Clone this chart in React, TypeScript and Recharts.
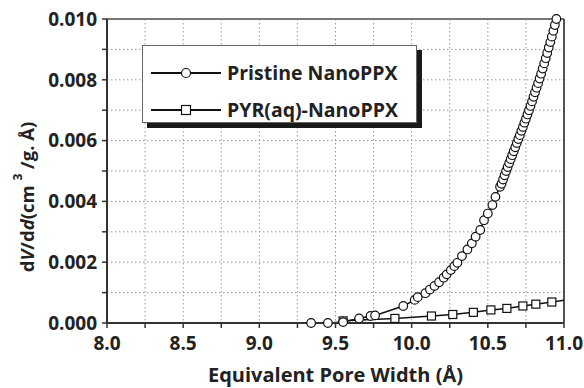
import React from "react";
import {
  ComposedChart,
  Line,
  XAxis,
  YAxis,
  CartesianGrid,
  Legend,
  ReferenceLine,
} from "recharts";

// Pristine NanoPPX (circles)
const pristineX = [
  9.34, 9.45, 9.55, 9.655, 9.73, 9.76, 9.945, 10.02, 10.04, 10.09, 10.12, 10.15,
  10.18, 10.21, 10.23, 10.257, 10.28, 10.3, 10.33, 10.366, 10.395, 10.42, 10.45,
  10.475, 10.5, 10.53, 10.55, 10.58, 10.59, 10.6, 10.61, 10.62, 10.63, 10.64,
  10.65, 10.66, 10.67, 10.68, 10.69, 10.7, 10.71, 10.72, 10.73, 10.74, 10.75,
  10.76, 10.77, 10.78, 10.79, 10.8, 10.81, 10.82, 10.83, 10.84, 10.85, 10.86,
  10.87, 10.88, 10.89, 10.9, 10.91, 10.92, 10.93, 10.94, 10.95,
];
const pristineY = [
  0.0, 0.0, 0.00003, 0.00015, 0.00023, 0.00025, 0.00056, 0.00076, 0.00085,
  0.00098, 0.0011, 0.00122, 0.00134, 0.00149, 0.0016, 0.00174, 0.00187, 0.00198,
  0.0022, 0.00242, 0.00262, 0.00284, 0.00306, 0.00338, 0.0036, 0.00388, 0.00415,
  0.00448, 0.00458, 0.00472, 0.00486, 0.005, 0.00513, 0.00526, 0.00539, 0.00552,
  0.00565, 0.00578, 0.00592, 0.00605, 0.00618, 0.00632, 0.00645, 0.00659,
  0.00672, 0.00686, 0.007, 0.00714, 0.00729, 0.00744, 0.00759, 0.00774, 0.00789,
  0.00804, 0.0082, 0.00837, 0.00854, 0.00871, 0.00888, 0.00906, 0.00924,
  0.00942, 0.00961, 0.0098, 0.01,
];

// PYR(aq)-NanoPPX (squares); the last one sits just past the right edge
const pyrX = [9.55, 9.89, 10.13, 10.27, 10.405, 10.52, 10.625, 10.73, 10.815, 10.92, 11.03];
const pyrY = [
  0.00007, 0.00015, 0.00023, 0.00028, 0.00035, 0.00043, 0.00048, 0.00056,
  0.00062, 0.00069, 0.00077,
];

const seriesNames = ["Pristine NanoPPX", "PYR(aq)-NanoPPX"];
const xTicks = [8, 8.25, 8.5, 8.75, 9, 9.25, 9.5, 9.75, 10, 10.25, 10.5, 10.75, 11];
const yTicks = [0, 0.001, 0.002, 0.003, 0.004, 0.005, 0.006, 0.007, 0.008, 0.009, 0.01];

const pristineData = pristineX.map((x, i) => ({ x, y: pristineY[i] }));
const pyrData = pyrX.map((x, i) => ({ x, y: pyrY[i] }));

const FONT = "'Open Sans', sans-serif";
const INK = "#222";

const SquareDot = (props: any) => {
  const { cx, cy, index } = props;
  if (cx == null || cy == null) return <g key={index} />;
  return (
    <rect key={index} x={cx - 4} y={cy - 4} width={8} height={8} fill="#fff" stroke="#111" strokeWidth={1.2} />
  );
};

const LegendBox = () => (
  <div
    style={{
      width: 273,
      height: 76,
      border: "1px solid #666",
      background: "#fff",
      boxShadow: "5px 5px 0 #1a1a1a",
      fontFamily: FONT,
      fontWeight: 700,
      fontSize: 19.5,
      color: INK,
      boxSizing: "content-box",
    }}
  >
    {seriesNames.map((name, i) => (
      <div
        key={name}
        style={{ display: "flex", alignItems: "center", height: 37, marginTop: i === 0 ? 8 : 0 }}
      >
        <svg width={70} height={14} style={{ marginLeft: 8, marginRight: 6 }}>
          <line x1={0} y1={7} x2={70} y2={7} stroke="#111" strokeWidth={2} />
          {i === 0 ? (
            <circle cx={35} cy={7} r={4.5} fill="#fff" stroke="#111" strokeWidth={1.2} />
          ) : (
            <rect x={30.5} y={2.5} width={9} height={9} fill="#fff" stroke="#111" strokeWidth={1.2} />
          )}
        </svg>
        <span>{name}</span>
      </div>
    ))}
  </div>
);

const YTitle = () => (
  <text
    transform="translate(26,197) rotate(-90)"
    textAnchor="middle"
    dominantBaseline="central"
    fontFamily={FONT}
    fontWeight={700}
    fontSize={18.5}
    fill={INK}
  >
    <tspan fontStyle="normal">d</tspan>
    <tspan fontStyle="italic">V</tspan>
    <tspan fontStyle="normal">/d</tspan>
    <tspan fontStyle="italic">d</tspan>
    <tspan fontStyle="normal">(cm </tspan>
    <tspan fontStyle="normal" fontSize={12} dy={-9}>3</tspan>
    <tspan fontStyle="normal" dy={9}> /g. Å)</tspan>
  </text>
);

const XTitle = (props: any) => {
  const vb = props.viewBox || {};
  return (
    <text
      x={vb.x + vb.width / 2}
      y={382}
      textAnchor="middle"
      fontFamily={FONT}
      fontWeight={700}
      fontSize={20}
      fill={INK}
    >
      Equivalent Pore Width (Å)
    </text>
  );
};

export default function App() {
  const tickStyle = { fontFamily: FONT, fontWeight: 700, fontSize: 19, fill: INK };
  return (
    <div style={{ position: "absolute", left: 0, top: 0, background: "#fff" }}>
      <ComposedChart width={584} height={388} margin={{ top: 19, right: 20, left: 0, bottom: 35 }}>
        <CartesianGrid stroke="#999" strokeDasharray="1.5 2.5" />
        <XAxis
          type="number"
          dataKey="x"
          domain={[8, 11]}
          ticks={xTicks}
          allowDataOverflow
          height={30}
          tickSize={5}
          tickMargin={9}
          tickFormatter={(v: number) => (Math.round(v * 100) % 50 === 0 ? v.toFixed(1) : "")}
          tick={tickStyle}
          axisLine={{ stroke: "#333", strokeWidth: 2 }}
          tickLine={{ stroke: "#333", strokeWidth: 1.5 }}
          label={<XTitle />}
        />
        <YAxis
          type="number"
          dataKey="y"
          domain={[0, 0.01]}
          ticks={yTicks}
          allowDataOverflow
          width={107}
          tickSize={5}
          tickMargin={5}
          tickFormatter={(v: number) => (Math.round(v * 1000) % 2 === 0 ? v.toFixed(3) : "")}
          tick={tickStyle}
          axisLine={{ stroke: "#333", strokeWidth: 2 }}
          tickLine={{ stroke: "#333", strokeWidth: 1.5 }}
          label={<YTitle />}
        />
        <ReferenceLine y={0.01} stroke="#777" strokeWidth={2} />
        <ReferenceLine x={11} stroke="#222" strokeWidth={1.5} />
        <Legend
          layout="vertical"
          align="center"
          verticalAlign="middle"
          content={<LegendBox />}
          wrapperStyle={{ position: "absolute", left: 142, top: 45, width: "auto", height: "auto" }}
        />
        <Line
          data={pyrData}
          dataKey="y"
          name={seriesNames[1]}
          stroke="#111"
          strokeWidth={1.5}
          dot={<SquareDot />}
          isAnimationActive={false}
        />
        <Line
          data={pristineData}
          dataKey="y"
          name={seriesNames[0]}
          stroke="#111"
          strokeWidth={1.5}
          dot={{ r: 4.3, fill: "#fff", stroke: "#111", strokeWidth: 1.2, clipDot: false }}
          isAnimationActive={false}
        />
      </ComposedChart>
    </div>
  );
}
